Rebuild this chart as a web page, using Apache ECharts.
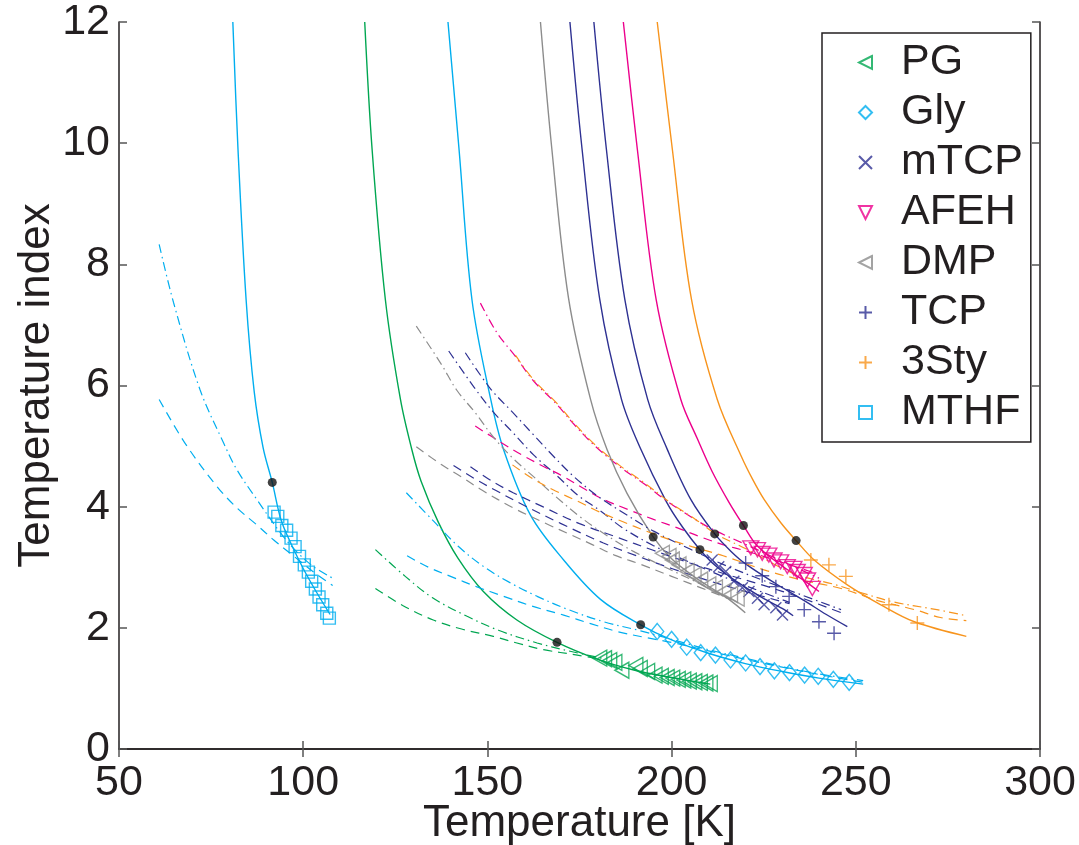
<!DOCTYPE html>
<html><head><meta charset="utf-8">
<script src="https://cdn.jsdelivr.net/npm/echarts@6/dist/echarts.min.js"></script>
<style>html,body{margin:0;padding:0;background:#fff}#c{width:1079px;height:845px}</style>
</head><body><div id="c"></div>
<script>
// ---------- axes ----------
const xRange = [50, 300];
const yRange = [0, 12];
const legendNames = ['PG', 'Gly', 'mTCP', 'AFEH', 'DMP', 'TCP', '3Sty', 'MTHF'];

// ---------- measured markers ----------
const pgT = [180.5, 181.8, 183.2, 184.6, 186.5, 190.3, 191.5, 193.5, 195.5, 197.2, 198.8, 200.3, 201.8, 203.3, 204.8, 206.3, 207.8, 209.3, 210.5];
const pgV = [1.50, 1.49, 1.46, 1.43, 1.30, 1.38, 1.33, 1.28, 1.22, 1.20, 1.18, 1.17, 1.15, 1.14, 1.12, 1.11, 1.10, 1.09, 1.08];
const glyT = [196.1, 200.0, 204.1, 207.9, 211.9, 216.0, 220.1, 224.0, 227.9, 232.0, 236.1, 239.8, 243.9, 248.2];
const glyV = [1.94, 1.81, 1.68, 1.59, 1.55, 1.47, 1.42, 1.36, 1.29, 1.26, 1.22, 1.20, 1.15, 1.10];
const mtcpT = [211.0, 212.8, 214.7, 216.9, 219.2, 221.0, 223.3, 225.1, 228.3, 230.1];
const mtcpV = [3.12, 3.01, 2.93, 2.77, 2.66, 2.60, 2.49, 2.38, 2.33, 2.21];
const afehT = [221.5, 223.3, 224.6, 226.4, 227.8, 229.6, 231.4, 233.2, 234.1, 236.0, 236.9, 238.2];
const afehV = [3.32, 3.29, 3.23, 3.20, 3.12, 3.09, 3.01, 2.98, 2.93, 2.88, 2.79, 2.65];
const dmpT = [197.5, 199.3, 200.2, 202.0, 204.2, 206.1, 207.9, 210.1, 211.9, 214.2, 216.0, 217.8];
const dmpV = [3.23, 3.18, 3.12, 3.04, 2.93, 2.87, 2.79, 2.71, 2.66, 2.60, 2.55, 2.49];
const tcpT = [220.1, 224.6, 228.3, 231.9, 236.0, 240.0, 244.1];
const tcpV = [3.07, 2.86, 2.68, 2.52, 2.30, 2.10, 1.91];
const styT = [237.8, 242.7, 247.3, 259.0, 266.7];
const styV = [3.12, 3.04, 2.85, 2.38, 2.08];
const mthfT = [92.1, 93.1, 94.2, 95.5, 96.7, 97.8, 99.0, 100.3, 101.4, 102.3, 103.3, 104.3, 105.3, 106.4, 107.1];
const mthfV = [3.91, 3.84, 3.69, 3.61, 3.48, 3.34, 3.18, 3.04, 2.92, 2.77, 2.64, 2.51, 2.38, 2.24, 2.16];

// ---------- black reference dots ----------
const dotT = [91.6, 168.9, 191.6, 195.0, 207.7, 211.7, 219.5, 233.8];
const dotV = [4.40, 1.76, 2.05, 3.50, 3.29, 3.55, 3.69, 3.44];

// ---------- solid curves ----------
const pgSolid = [[116.7,12],[118.7,9.9],[122.3,7.42],[126.4,5.77],[129.5,4.94],[132,4.42],[136.7,3.74],[142,3.15],[148.9,2.60],[158,2.13],[168.9,1.76],[180,1.48],[190,1.30],[200,1.18],[210.5,1.07]];
const glySolid = [[139.3,12],[142.3,9.9],[145.8,7.42],[150.8,5.8],[154.4,4.94],[161.7,3.86],[170.7,3.12],[180.7,2.47],[191.6,2.05],[200,1.80],[210,1.58],[220,1.41],[230,1.28],[240,1.17],[252,1.07]];
const mtcpSolid = [[172.4,12],[175.7,9.9],[180.5,7.42],[186.4,5.77],[191.4,4.98],[198.6,4.08],[203,3.66],[207.7,3.29],[212,3.02],[218,2.75],[224,2.52],[230,2.32],[233,2.2]];
const afehSolid = [[186.9,12],[190.7,9.9],[195.8,7.42],[202.5,5.77],[207,5.12],[211,4.58],[215.5,4.08],[219.5,3.69],[223.3,3.35],[230.5,3.0],[236,2.78],[240,2.6]];
const dmpSolid = [[164.4,12],[167.5,9.9],[172,7.45],[178,5.77],[182.5,4.94],[187.9,4.22],[195,3.50],[200,3.14],[206,2.85],[212,2.61],[216,2.45],[220,2.25]];
const tcpSolid = [[178.9,12],[182.3,9.9],[187.3,7.42],[193.5,5.77],[198.8,4.95],[205.2,4.12],[211.7,3.55],[216,3.27],[220,3.06],[228,2.74],[236,2.45],[242,2.22],[247.7,2.02]];
const stySolid = [[196.1,12],[200.2,9.9],[205.4,7.42],[212.4,5.77],[219,4.82],[222,4.45],[225.1,4.12],[229.7,3.73],[233.8,3.44],[238.7,3.12],[247.7,2.71],[256.8,2.38],[265.9,2.10],[280,1.86]];
const mthfSolid = [[80.9,12],[82.3,9.9],[84.5,7.42],[86.7,5.9],[89.1,4.98],[91.6,4.40],[94,3.78],[97,3.35],[100,2.98],[103.5,2.6],[107.3,2.22]];

// ---------- dashed fits ----------
const pgDash = [[119.6,2.65],[127,2.37],[135.3,2.13],[143,1.98],[151.6,1.86],[158,1.75],[165.2,1.64],[174.4,1.55],[181,1.48]];
const glyDash = [[128.2,3.19],[134,3.0],[140,2.85],[147,2.68],[154.4,2.52],[162,2.36],[170.7,2.21],[178,2.07],[185.2,1.94],[193,1.84],[200,1.76],[210,1.62],[220,1.48],[230,1.35],[240,1.23],[252,1.10]];
const mtcpDash = [[140.8,4.68],[146.3,4.47],[152.2,4.27],[160,4.02],[170,3.72],[181.5,3.4],[190,3.2],[200,2.98],[210,2.78],[220,2.6],[232,2.4]];
const afehDash = [[146.7,5.33],[153.7,5.06],[159.2,4.86],[164.7,4.68],[170.6,4.5],[176.4,4.29],[181.5,4.12],[188.3,3.95],[195.1,3.79],[201.6,3.65],[207.9,3.5],[214.1,3.37],[220.7,3.26],[230,3.08],[238.6,2.91]];
const dmpDash = [[130.7,4.99],[137.6,4.69],[143,4.49],[148.6,4.27],[157,3.98],[166.3,3.71],[172.5,3.54],[178.6,3.37],[184.5,3.2],[191.5,3.05],[200,2.85],[208,2.66],[216,2.47]];
const tcpDash = [[145.4,4.66],[151.3,4.42],[157,4.23],[165,4.0],[175,3.72],[185,3.5],[195,3.28],[205,3.07],[215,2.88],[225,2.7],[235,2.5],[246,2.25]];
const styDash = [[156.8,4.69],[162.6,4.45],[168.5,4.26],[174.5,4.09],[180.5,3.91],[186.8,3.75],[193,3.6],[199.3,3.46],[205.5,3.34],[214,3.19],[226,2.94],[236,2.78],[246,2.65],[256,2.45],[266,2.30],[273,2.17],[280,2.12]];
const mthfDash = [[60.9,5.77],[67.9,5.05],[76.5,4.34],[82,3.98],[87.4,3.70],[92,3.45],[97.5,3.18],[103.7,2.88],[108,2.70]];

// ---------- dash-dot fits ----------
const pgDashDot = [[119.6,3.29],[127.7,2.85],[135,2.5],[144.5,2.19],[153,1.96],[163.5,1.75],[172,1.62],[181,1.5]];
const glyDashDot = [[128,4.23],[135.4,3.76],[142,3.35],[149,3.01],[156,2.75],[163.5,2.52],[172,2.3],[181.6,2.1],[191.6,1.95],[200,1.81],[210,1.64],[220,1.5],[230,1.36],[240,1.24],[252,1.13]];
const mtcpDashDot = [[139.5,6.57],[146.4,5.97],[151.5,5.57],[156.8,5.23],[162.6,4.85],[168.9,4.51],[174.5,4.19],[180.7,3.93],[186.7,3.65],[195,3.36],[205,3.08],[215,2.82],[225,2.58],[232,2.42]];
const afehDashDot = [[148.1,7.36],[152.6,6.87],[157.6,6.48],[162.6,6.07],[168.5,5.71],[173.5,5.36],[178.9,5.02],[185.7,4.67],[192.9,4.36],[199,4.08],[205.3,3.83],[211,3.63],[220,3.38],[230,3.1],[240,2.82]];
const dmpDashDot = [[130.7,6.98],[137.6,6.34],[141.6,5.93],[146.7,5.55],[151.6,5.15],[156.9,4.8],[163,4.47],[168.5,4.17],[175,3.84],[181.5,3.56],[190,3.25],[200,2.95],[208,2.72],[216,2.47]];
const tcpDashDot = [[144,6.54],[150.8,5.95],[156.8,5.56],[162.3,5.2],[167.8,4.84],[173.4,4.5],[180,4.17],[186.1,3.93],[195,3.6],[205,3.3],[215,3.02],[225,2.78],[235,2.55],[246,2.3]];
const styDashDot = [[157.6,6.5],[162.6,6.09],[168.5,5.73],[173.5,5.38],[178.9,5.04],[185.7,4.69],[192.9,4.38],[200,4.05],[206.5,3.79],[212,3.55],[220,3.31],[233,2.9],[244,2.72],[252,2.57],[260,2.43],[272,2.30],[280,2.2]];
const mthfDashDot = [[60.9,8.33],[64.8,7.37],[72,5.93],[78.4,5.05],[82,4.61],[87.4,4.12],[93.8,3.57],[98,3.27],[102.8,3.01],[108,2.82]];

// ---------- styling ----------
const C = {green:'#00a651', cyan:'#00aeef', navy:'#2e3192', magenta:'#ec008c', grey:'#8c8c8c', orange:'#f7941d', ink:'#231f20'};
const FONT = '"Liberation Sans", Arial, Helvetica, sans-serif';
const X_PATH = 'path://M0,0L10,10M10,0L0,10';
const PLUS_PATH = 'path://M5,0L5,10M0,5L10,5';
const TRI_LEFT = 'path://M10,0L0,5L10,10Z';
const TRI_DOWN = 'path://M0,0L10,0L5,10Z';
const DASH = [9, 6];
const DASHDOT = [9, 4, 1.5, 4];

const zip = (a, b) => a.map((t, i) => [t, b[i]]);

function markers(name, T, V, color, symbol, size) {
  return {
    type: 'scatter', name, data: zip(T, V), symbol, symbolSize: size,
    symbolKeepAspect: true,
    itemStyle: {color: 'rgba(255,255,255,0)', borderColor: color, borderWidth: 1.4},
    z: 6, silent: true
  };
}
function curve(data, color, type, w) {
  return {
    type: 'line', data, symbol: 'none', showSymbol: false, smooth: 0.35, silent: true,
    lineStyle: {color, width: w || 1.3, type}, z: 3, clip: true
  };
}

const substances = [
  {name:'PG',   color:C.green,   solid:pgSolid,   dash:pgDash,   dd:pgDashDot,   T:pgT,   V:pgV,   sym:TRI_LEFT,   size:[14,16]},
  {name:'Gly',  color:C.cyan,    solid:glySolid,  dash:glyDash,  dd:glyDashDot,  T:glyT,  V:glyV,  sym:'diamond',  size:[13,16]},
  {name:'mTCP', color:C.navy,    solid:mtcpSolid, dash:mtcpDash, dd:mtcpDashDot, T:mtcpT, V:mtcpV, sym:X_PATH,     size:11},
  {name:'AFEH', color:C.magenta, solid:afehSolid, dash:afehDash, dd:afehDashDot, T:afehT, V:afehV, sym:TRI_DOWN,   size:[16,14]},
  {name:'DMP',  color:C.grey,    solid:dmpSolid,  dash:dmpDash,  dd:dmpDashDot,  T:dmpT,  V:dmpV,  sym:TRI_LEFT,   size:[14,16]},
  {name:'TCP',  color:C.navy,    solid:tcpSolid,  dash:tcpDash,  dd:tcpDashDot,  T:tcpT,  V:tcpV,  sym:PLUS_PATH,  size:14},
  {name:'3Sty', color:C.orange,  solid:stySolid,  dash:styDash,  dd:styDashDot,  T:styT,  V:styV,  sym:PLUS_PATH,  size:14},
  {name:'MTHF', color:C.cyan,    solid:mthfSolid, dash:mthfDash, dd:mthfDashDot, T:mthfT, V:mthfV, sym:'rect',     size:12}
];

const series = [];
substances.forEach(s => {
  series.push(curve(s.dash, s.color, DASH, 1.2));
  series.push(curve(s.dd, s.color, DASHDOT, 1.2));
  series.push(curve(s.solid, s.color, 'solid', 1.4));
});
substances.forEach(s => series.push(markers(s.name, s.T, s.V, s.color, s.sym, s.size)));
series.push({
  type: 'scatter', name: 'ref', data: zip(dotT, dotV), symbol: 'circle', symbolSize: 9,
  itemStyle: {color: '#111'}, z: 8, silent: true
});

const labelStyle = {color: C.ink, fontSize: 43, fontFamily: FONT};
const nameStyle = {color: C.ink, fontSize: 44, fontFamily: FONT};
const baseAxisLine = {show: true, lineStyle: {color: C.ink, width: 1.5}};
const tick = {show: true, inside: true, length: 8, lineStyle: {color: '#555', width: 1.5}};

const option = {
  animation: false,
  backgroundColor: '#fff',
  grid: {left: 119, right: 39, top: 22, bottom: 96, containLabel: false, outerBoundsMode: 'none'},
  xAxis: [
    {type: 'value', min: xRange[0], max: xRange[1], interval: 50, position: 'bottom',
     name: 'Temperature [K]', nameLocation: 'middle', nameGap: 53, nameMoveOverlap: false, nameTextStyle: nameStyle,
     axisLine: baseAxisLine, axisTick: tick, splitLine: {show: false},
     axisLabel: Object.assign({margin: 13}, labelStyle)},
    {type: 'value', min: xRange[0], max: xRange[1], interval: 50, position: 'top',
     axisLine: baseAxisLine, axisTick: tick, splitLine: {show: false}, axisLabel: {show: false}}
  ],
  yAxis: [
    {type: 'value', min: yRange[0], max: yRange[1], interval: 2, position: 'left',
     name: 'Temperature index', nameLocation: 'middle', nameGap: 60, nameRotate: 90, nameMoveOverlap: false, nameTextStyle: nameStyle,
     axisLine: baseAxisLine, axisTick: tick, splitLine: {show: false},
     axisLabel: Object.assign({margin: 9}, labelStyle)},
    {type: 'value', min: yRange[0], max: yRange[1], interval: 2, position: 'right',
     axisLine: baseAxisLine, axisTick: tick, splitLine: {show: false}, axisLabel: {show: false}}
  ],
  legend: {
    data: legendNames, orient: 'vertical', left: 822, top: 33,
    padding: [8, 8, 8, 36], itemWidth: 13, itemHeight: 13, itemGap: 7,
    backgroundColor: '#fff', borderColor: C.ink, borderWidth: 1.5, borderRadius: 0,
    selectedMode: false,
    textStyle: {color: C.ink, fontSize: 43, fontFamily: FONT, padding: [0, 0, 0, 24]}
  },
  series
};

const chart = echarts.init(document.getElementById('c'), null, {renderer: 'canvas'});
chart.setOption(option);
</script>
</body></html>
